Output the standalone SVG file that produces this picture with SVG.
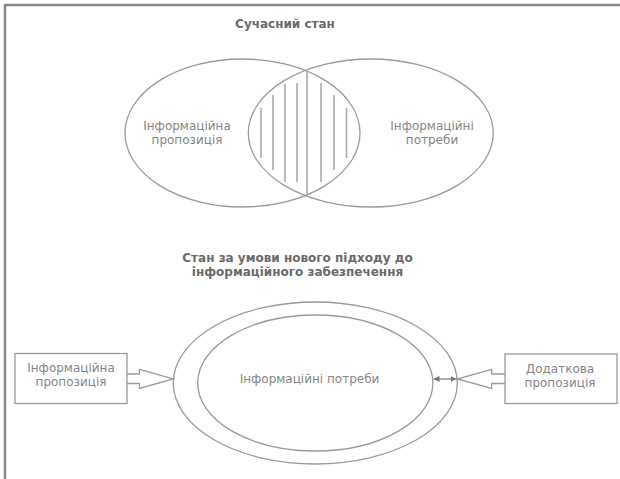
<svg xmlns="http://www.w3.org/2000/svg" width="620" height="479" viewBox="0 0 620 479">
<defs>
<style>
.ln{fill:none;stroke:#9a9a9a;stroke-width:1.3}
.h{stroke:#aaaaaa;stroke-width:1.6}
.t{font-family:"DejaVu Sans",Verdana,sans-serif;font-size:12px;fill:#858585;text-anchor:middle}
.b{font-family:"DejaVu Sans",Verdana,sans-serif;font-size:12px;font-weight:bold;fill:#6a6a6a;text-anchor:middle}
</style>
<marker id="ah" viewBox="0 0 10 10" refX="10" refY="5" markerWidth="6" markerHeight="6" orient="auto-start-reverse" markerUnits="userSpaceOnUse"><path d="M0,0 L10,5 L0,10 z" fill="#777"/></marker>
</defs>
<rect width="620" height="479" fill="#fff"/>
<path d="M5,479 V5 H620" fill="none" stroke="#8a8a8a" stroke-width="2.5"/>
<text class="b" x="285" y="28">Сучасний стан</text>
<g id="left-set">
<ellipse class="ln" cx="242.5" cy="133" rx="117.5" ry="74"/>
<text class="t" x="187" y="130">Інформаційна</text>
<text class="t" x="187" y="144">пропозиція</text>
</g>
<g id="right-set">
<ellipse class="ln" cx="370.8" cy="133" rx="122.5" ry="74"/>
<text class="t" x="432" y="130">Інформаційні</text>
<text class="t" x="432" y="144">потреби</text>
</g>
<g id="hatch">
<line class="h" x1="261" y1="108" x2="261" y2="158"/>
<line class="h" x1="273" y1="95" x2="273" y2="170"/>
<line class="h" x1="285" y1="84" x2="285" y2="182"/>
<line class="h" x1="297" y1="83" x2="297" y2="182"/>
<line class="h" x1="307" y1="71" x2="307" y2="195"/>
<line class="h" x1="321" y1="83" x2="321" y2="182"/>
<line class="h" x1="334" y1="95" x2="334" y2="170"/>
<line class="h" x1="346.5" y1="108" x2="346.5" y2="158"/>
</g>
<text class="b" x="297.5" y="262">Стан за умови нового підходу до</text>
<text class="b" x="297.5" y="276">інформаційного забезпечення</text>
<g id="outer-needs">
<ellipse class="ln" cx="315.3" cy="383" rx="142" ry="81"/>
</g>
<g id="inner-needs">
<ellipse class="ln" cx="315.3" cy="383" rx="117.6" ry="68"/>
<text class="t" x="309.5" y="383">Інформаційні потреби</text>
</g>
<g id="info-proposal">
<rect class="ln" x="15" y="353.5" width="112" height="50"/>
<text class="t" x="71" y="372">Інформаційна</text>
<text class="t" x="71" y="386">пропозиція</text>
</g>
<g id="extra-proposal">
<rect class="ln" x="505" y="354" width="112" height="49.5"/>
<text class="t" x="560" y="373">Додаткова</text>
<text class="t" x="560" y="387">пропозиція</text>
</g>
<g id="connectors">
<path class="ln" d="M127,374 H139.5 V369.3 L173.3,379 L139.5,388.5 V383.5 H127"/>
<path class="ln" d="M505,374 H491.7 V369.3 L457.3,379 L491.7,388.5 V383.5 H505"/>
<line x1="433.5" y1="379" x2="456.5" y2="379" stroke="#777" stroke-width="1.2" marker-start="url(#ah)" marker-end="url(#ah)"/>
</g>
</svg>
